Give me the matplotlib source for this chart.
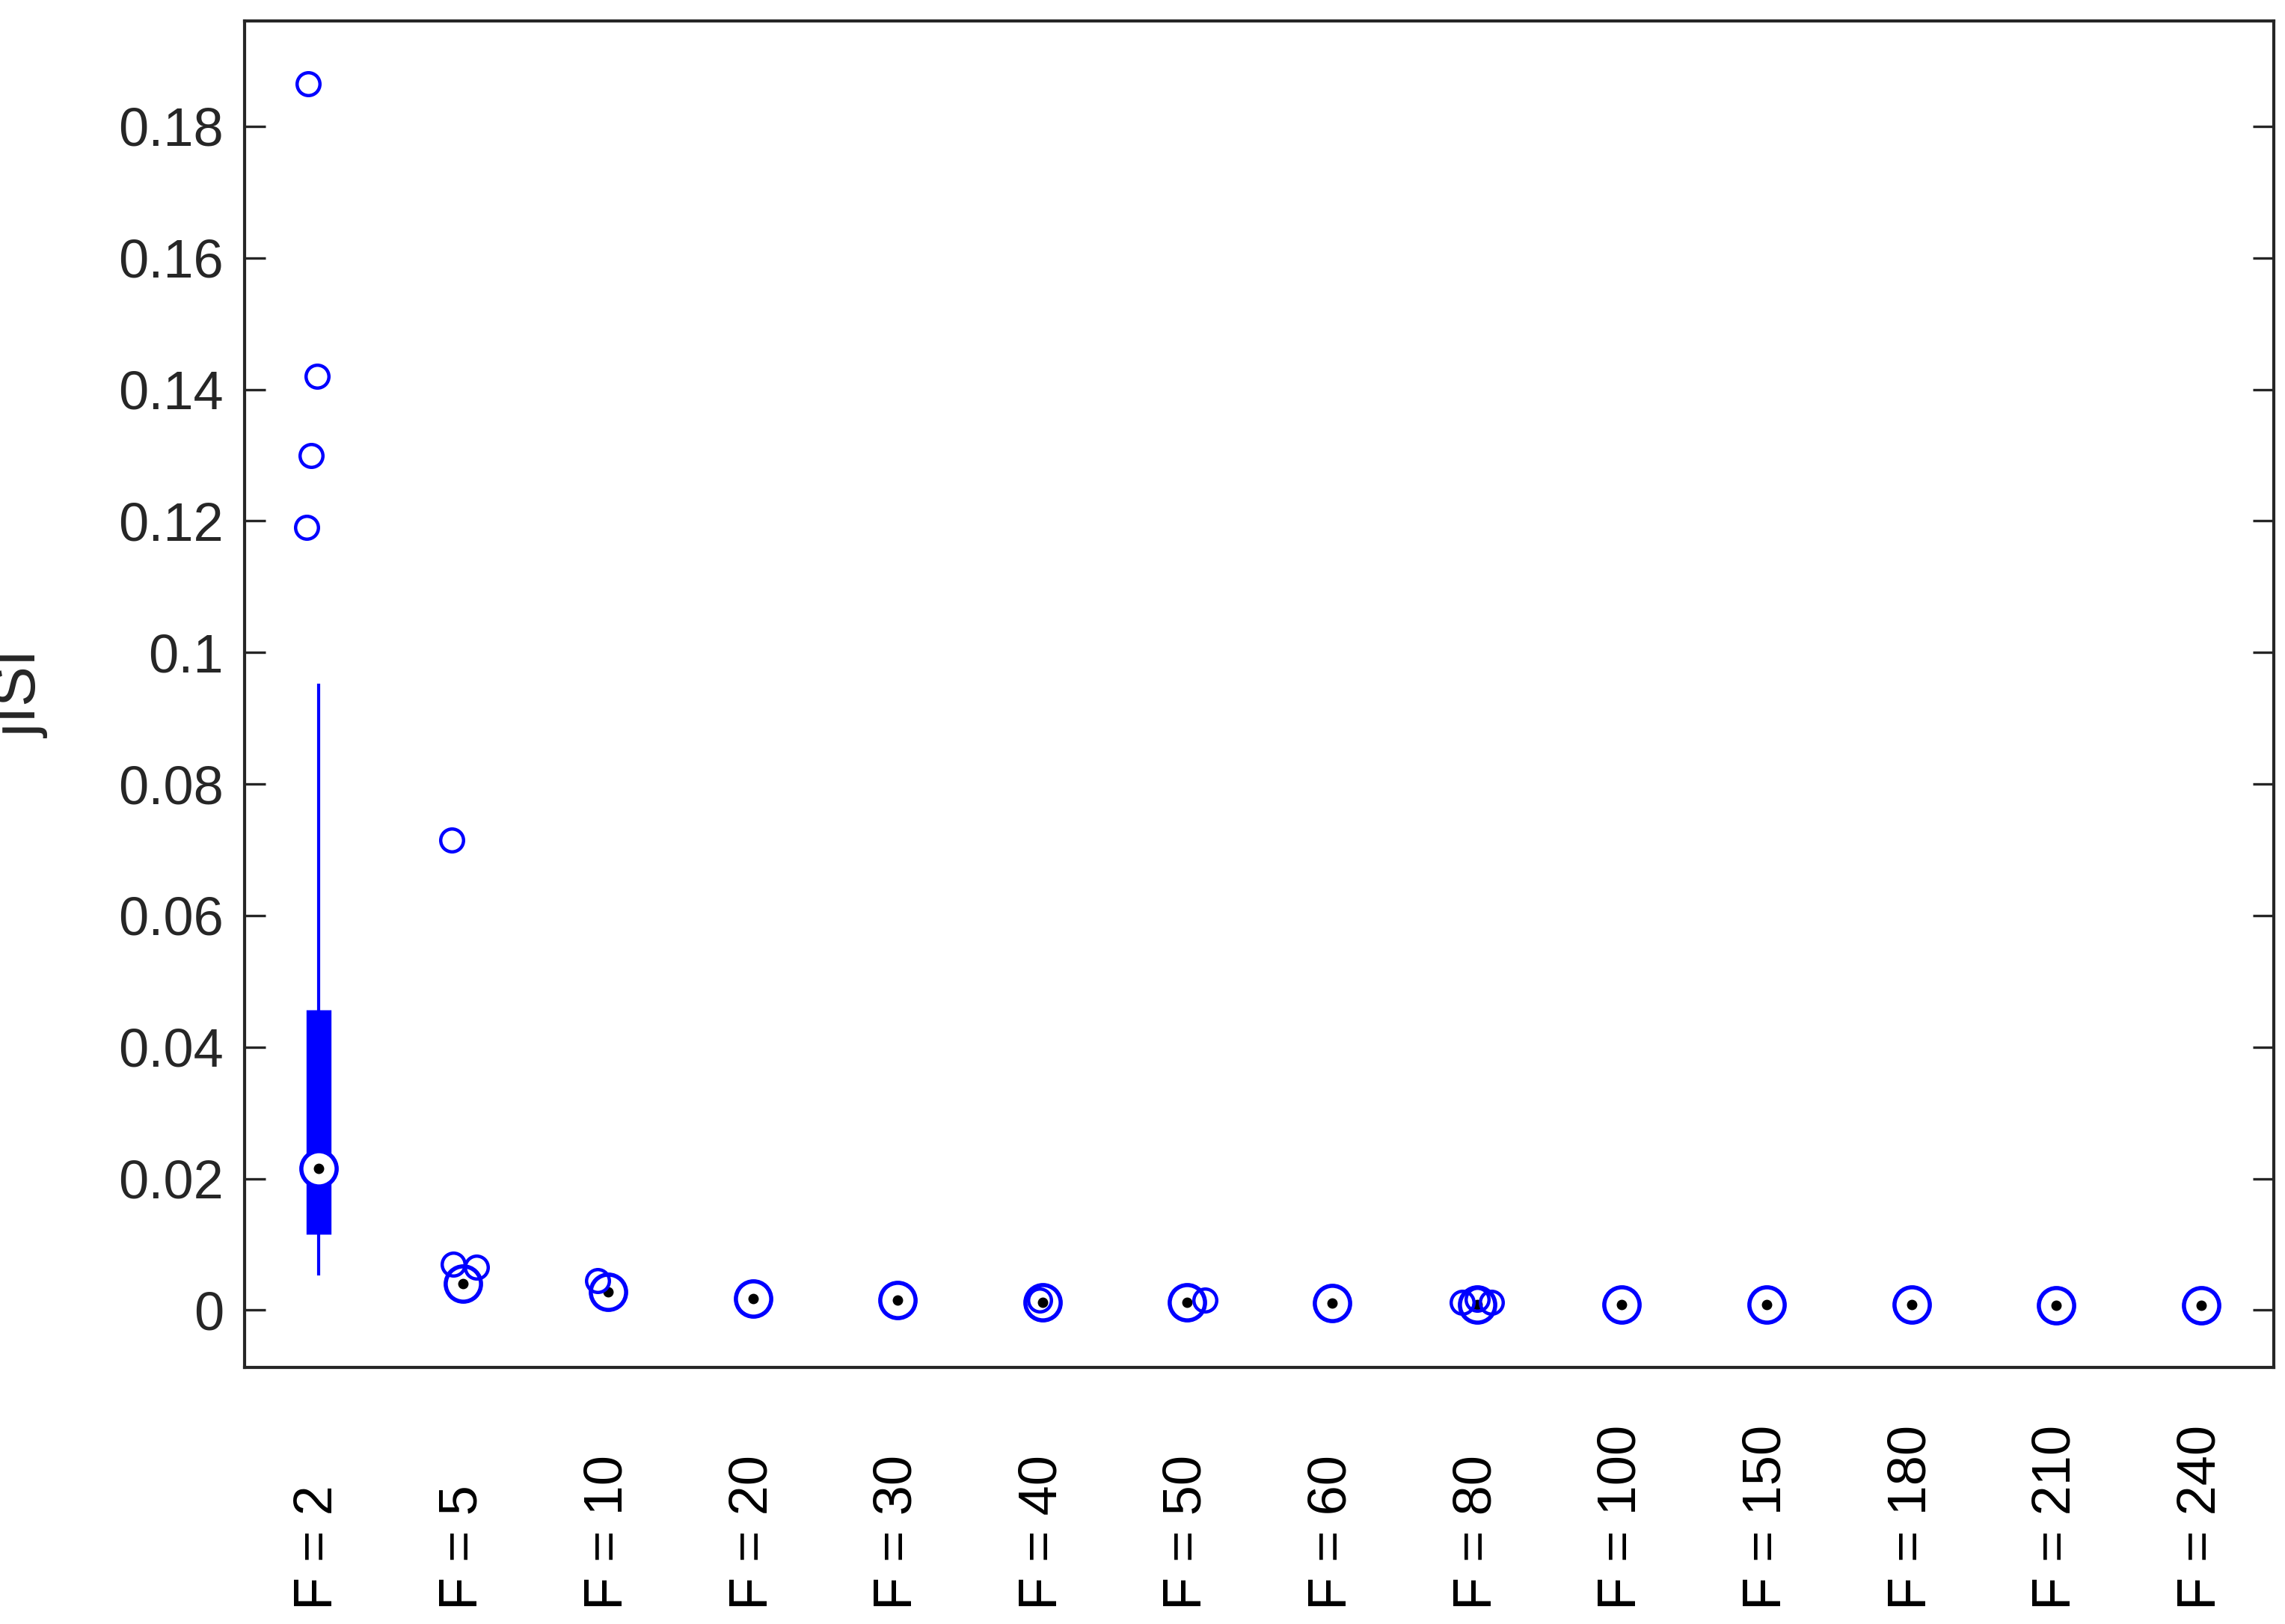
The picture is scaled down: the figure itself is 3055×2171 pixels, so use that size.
import matplotlib
matplotlib.use("Agg")
import matplotlib.pyplot as plt

plt.rcParams['font.family'] = ['Liberation Sans', 'DejaVu Sans']

labels = ["F = 2","F = 5","F = 10","F = 20","F = 30","F = 40","F = 50","F = 60","F = 80","F = 100","F = 150","F = 180","F = 210","F = 240"]
medians = [0.0215,0.0040,0.0028,0.0018,0.0015,0.0012,0.0012,0.0011,0.0009,0.0009,0.0008,0.0008,0.0007,0.0007]
q1 = [0.0115]; q3 = [0.0457]; wlo = [0.0055]; whi = [0.095]
out_group = [0,0,0,0, 1,1,1, 2, 5, 6, 8,8,8]
out_vals  = [0.1865,0.142,0.130,0.119, 0.0715,0.007,0.0065, 0.0045, 0.0015, 0.0015, 0.0012,0.0012,0.0016]
out_jit   = [-0.07,-0.01,-0.05,-0.08, -0.08,-0.07,0.09, -0.07, -0.02, 0.12, -0.1,0.1,0.0]

fig = plt.figure(figsize=(15.275,10.855), dpi=200)
ax = fig.add_axes([0.107,0.158,0.888,0.829])
blue = '#0000ff'
pos = list(range(1,len(labels)+1))
for i in range(len(q1)):
    ax.plot([pos[i],pos[i]],[wlo[i],whi[i]],color=blue,lw=1.5,zorder=1)
    ax.plot([pos[i],pos[i]],[q1[i],q3[i]],color=blue,lw=12,solid_capstyle='butt',zorder=2)
ax.plot(pos,medians,'o',ms=17,mfc='white',mec=blue,mew=2,ls='none',zorder=3)
ax.plot(pos,medians,'o',ms=4,color='black',ls='none',zorder=4)
ax.plot([pos[g]+j for g,j in zip(out_group,out_jit)],out_vals,'o',ms=11,mfc='none',mec=blue,mew=1.6,ls='none',zorder=5)

ax.set_xlim(0.49,14.5)
ax.set_ylim(-0.0087,0.196)
ax.set_yticks([0,0.02,0.04,0.06,0.08,0.1,0.12,0.14,0.16,0.18])
ax.set_yticklabels(['0','0.02','0.04','0.06','0.08','0.1','0.12','0.14','0.16','0.18'])
ax.set_xticks(pos)
ax.set_xticklabels([])
for p, lab in zip(pos, labels):
    ax.text(p, -0.18, lab, rotation=90, ha='center', va='bottom', fontsize=26,
            transform=ax.get_xaxis_transform(), color='black')
ax.tick_params(axis='y',direction='in',right=True,length=10,width=1.2,labelsize=26,colors='#262626',pad=10)
ax.tick_params(axis='x',length=0)
ax.set_ylabel('jISI',fontsize=29,color='#262626')
ax.yaxis.set_label_coords(-0.096,0.5)
for s in ax.spines.values():
    s.set_linewidth(1.5); s.set_color('#262626')
fig.savefig('out.png',dpi=200)
